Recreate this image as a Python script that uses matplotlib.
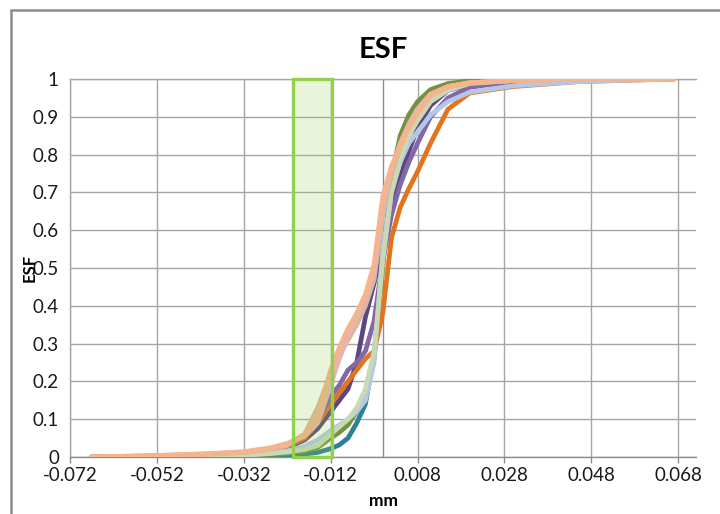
import matplotlib
matplotlib.use("Agg")
import matplotlib.pyplot as plt
from matplotlib.patches import Rectangle
from matplotlib.ticker import FixedLocator, FixedFormatter

plt.rcParams['font.family'] = ['Lato', 'DejaVu Sans']

# ---- data (mm positions and ESF values) ----
x_mm = [-0.067, -0.052, -0.040, -0.032, -0.026, -0.022, -0.018, -0.015, -0.012, -0.010,
        -0.008, -0.006, -0.004, -0.002, 0.000, 0.002, 0.004, 0.006, 0.008, 0.011,
        0.015, 0.020, 0.030, 0.045, 0.067]

esf_teal = [0.0, 0.001, 0.002, 0.003, 0.004, 0.006, 0.008, 0.012, 0.022, 0.032,
            0.05, 0.09, 0.14, 0.27, 0.52, 0.73, 0.80, 0.86, 0.91, 0.96,
            0.985, 0.995, 0.998, 0.999, 1.0]
esf_olive = [0.0, 0.001, 0.002, 0.004, 0.006, 0.009, 0.015, 0.025, 0.05, 0.065,
             0.085, 0.12, 0.17, 0.26, 0.50, 0.74, 0.85, 0.905, 0.94, 0.972,
             0.988, 0.995, 0.998, 0.999, 1.0]
esf_darkpurple = [0.0, 0.002, 0.004, 0.008, 0.015, 0.025, 0.045, 0.075, 0.12, 0.15,
                  0.18, 0.25, 0.37, 0.46, 0.56, 0.66, 0.74, 0.81, 0.87, 0.93,
                  0.97, 0.985, 0.995, 0.999, 1.0]
esf_orange = [0.0, 0.002, 0.004, 0.008, 0.016, 0.028, 0.05, 0.09, 0.14, 0.17,
              0.20, 0.23, 0.26, 0.28, 0.38, 0.58, 0.66, 0.71, 0.755, 0.83,
              0.92, 0.963, 0.98, 0.993, 1.0]
esf_purple = [0.0, 0.002, 0.005, 0.009, 0.018, 0.03, 0.06, 0.10, 0.16, 0.19,
              0.23, 0.25, 0.28, 0.36, 0.52, 0.64, 0.72, 0.78, 0.83, 0.90,
              0.95, 0.978, 0.993, 0.999, 1.0]
esf_lightblue = [0.0, 0.001, 0.003, 0.005, 0.01, 0.016, 0.028, 0.045, 0.07, 0.085,
                 0.10, 0.12, 0.15, 0.25, 0.55, 0.70, 0.78, 0.83, 0.86, 0.905,
                 0.94, 0.965, 0.982, 0.993, 1.0]
esf_palegreen = [0.0, 0.001, 0.003, 0.005, 0.009, 0.013, 0.02, 0.03, 0.06, 0.08,
                 0.10, 0.13, 0.18, 0.28, 0.52, 0.70, 0.79, 0.85, 0.89, 0.94,
                 0.97, 0.988, 0.996, 0.999, 1.0]
esf_tan = [0.0, 0.003, 0.007, 0.012, 0.02, 0.03, 0.06, 0.13, 0.22, 0.27,
           0.31, 0.35, 0.40, 0.47, 0.64, 0.75, 0.82, 0.88, 0.92, 0.96,
           0.98, 0.99, 0.996, 0.999, 1.0]
esf_pink = [0.0, 0.004, 0.009, 0.014, 0.024, 0.036, 0.055, 0.09, 0.19, 0.26,
            0.32, 0.37, 0.42, 0.49, 0.66, 0.76, 0.83, 0.88, 0.92, 0.96,
            0.98, 0.99, 0.996, 0.999, 1.0]
esf_peach = [0.0, 0.004, 0.008, 0.013, 0.022, 0.034, 0.06, 0.11, 0.23, 0.29,
             0.34, 0.38, 0.43, 0.51, 0.69, 0.77, 0.82, 0.87, 0.91, 0.955,
             0.98, 0.99, 0.996, 0.999, 1.0]

series = [
    (esf_teal, '#2E8195'),
    (esf_olive, '#76923C'),
    (esf_darkpurple, '#5B4682'),
    (esf_orange, '#E3731C'),
    (esf_purple, '#8368A8'),
    (esf_lightblue, '#B4C7E4'),
    (esf_palegreen, '#C9D9B4'),
    (esf_tan, '#D4B99A'),
    (esf_pink, '#E5B5B3'),
    (esf_peach, '#F6B48C'),
]

x_ticks = [-0.072, -0.052, -0.032, -0.012, 0.008, 0.028, 0.048, 0.068]
x_tick_labels = ['-0.072', '-0.052', '-0.032', '-0.012', '0.008', '0.028', '0.048', '0.068']
y_ticks = [0, 0.1, 0.2, 0.3, 0.4, 0.5, 0.6, 0.7, 0.8, 0.9, 1.0]
y_tick_labels = ['0', '0.1', '0.2', '0.3', '0.4', '0.5', '0.6', '0.7', '0.8', '0.9', '1']

box_x0, box_x1 = -0.0207, -0.0118
box_y0, box_y1 = 0.0, 1.0

# ---- figure ----
W, H = 720, 514
fig = plt.figure(figsize=(W / 100, H / 100), dpi=100)
ax = fig.add_axes([70 / W, 1 - 457 / H, 626 / W, 378 / H])

grid_c = '#A6A6A6'
ax.spines['right'].set_visible(False)
for s in ['left', 'top', 'bottom']:
    ax.spines[s].set_color(grid_c if s != 'bottom' else '#8C8C8C')
    ax.spines[s].set_linewidth(1.0)

ax.set_xlim(-0.072, 0.0721)
ax.set_ylim(0, 1)
ax.xaxis.set_major_locator(FixedLocator(x_ticks))
ax.xaxis.set_major_formatter(FixedFormatter(x_tick_labels))
ax.yaxis.set_major_locator(FixedLocator(y_ticks))
ax.yaxis.set_major_formatter(FixedFormatter(y_tick_labels))
ax.grid(True, color=grid_c, linewidth=1.0, zorder=0)
ax.set_axisbelow(True)
ax.tick_params(axis='x', direction='out', length=4, color='#8C8C8C', width=1,
               labelsize=13.5, pad=3, labelcolor='#1a1a1a')
ax.tick_params(axis='y', length=0, labelsize=13.5, pad=8, labelcolor='#1a1a1a')

ax.axvline(0, color='#8C8C8C', linewidth=1.0, zorder=1)

for ys, c in series:
    ax.plot(x_mm, ys, color=c, linewidth=3.4, solid_capstyle='round',
            solid_joinstyle='round', zorder=3)

rect = Rectangle((box_x0, box_y0), box_x1 - box_x0, box_y1 - box_y0,
                 facecolor=(0.57, 0.82, 0.31, 0.2), edgecolor='#92D050',
                 linewidth=2.4, zorder=5, clip_on=False)
ax.add_patch(rect)

fig.text(383 / W, 1 - 50 / H, 'ESF', ha='center', va='center',
         fontsize=21, fontweight='bold')
fig.text(383 / W, 1 - 501 / H, 'mm', ha='center', va='center',
         fontsize=12.5, fontweight='bold')
fig.text(30 / W, 1 - 268 / H, 'ESF', ha='center', va='center', rotation=90,
         fontsize=12, fontweight='bold')

border = Rectangle((11 / W, -0.1), 1.2, 1.1 - 10 / H, transform=fig.transFigure,
                   fill=False, edgecolor='#8C8C8C', linewidth=1.8)
fig.patches.append(border)

fig.savefig('out.png', dpi=100)
